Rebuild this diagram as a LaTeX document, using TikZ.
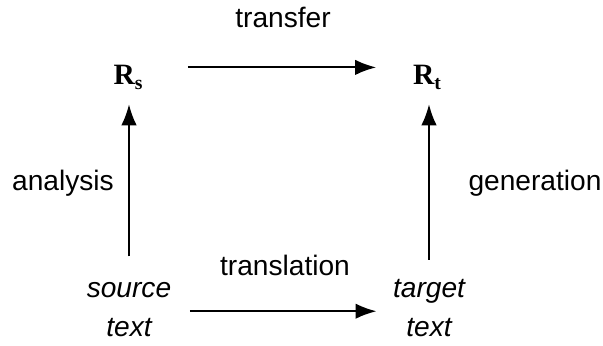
\documentclass[tikz,border=0pt]{standalone}
\usepackage{fontspec}
\setmainfont{Liberation Sans}
\newfontfamily\reprfont{Liberation Serif}
\usetikzlibrary{arrows.meta, calc}

\tikzset{
  lbl/.style={inner sep=0pt, anchor=base, font=\fontsize{20}{24}\selectfont},
  txt/.style={inner sep=0pt, anchor=base, align=center, font=\fontsize{20}{27.7}\selectfont\itshape},
  repr/.style={inner sep=0pt, anchor=base, font=\fontsize{21}{24}\selectfont\reprfont\bfseries},
  arr/.style={line width=1.5pt, -{Latex[length=15pt,width=11pt]}}
}
\newcommand{\rsub}[1]{\raisebox{-4pt}{\fontsize{14}{14}\selectfont #1}}

\begin{document}
\begin{tikzpicture}[x=0.025cm, y=-0.025cm]
  \useasboundingbox (0,0) rectangle (603,345);

  % representations and texts
  \node[repr] (Rs) at (128,84) {R\rsub{s}};
  \node[repr] (Rt) at (427,84) {R\rsub{t}};
  \node[txt] (src) at (129,336) {source\\text};
  \node[txt] (tgt) at (429,336) {target\\text};

  % arrows
  \draw[arr, shorten <=32pt, shorten >=26pt] ([yshift=7pt]Rs.east) -- ([yshift=7pt]Rt.west);
  \draw[arr, shorten <=18pt, shorten >=10pt] (src.north) -- (src.north |- Rs.south);
  \draw[arr, shorten <=13.5pt, shorten >=10pt] (tgt.north) -- (tgt.north |- Rt.south);
  \draw[arr, shorten <=13pt, shorten >=11.5pt] ([yshift=-1.5pt]src.east) -- ([yshift=-1.5pt]src.east -| tgt.west);

  % labels
  \node[lbl] (transfer) at (283,27) {transfer};
  \node[lbl] (analysis) at (63,190) {analysis};
  \node[lbl] (generation) at (535,190) {generation};
  \node[lbl] (translation) at (285,275) {translation};
\end{tikzpicture}
\end{document}
